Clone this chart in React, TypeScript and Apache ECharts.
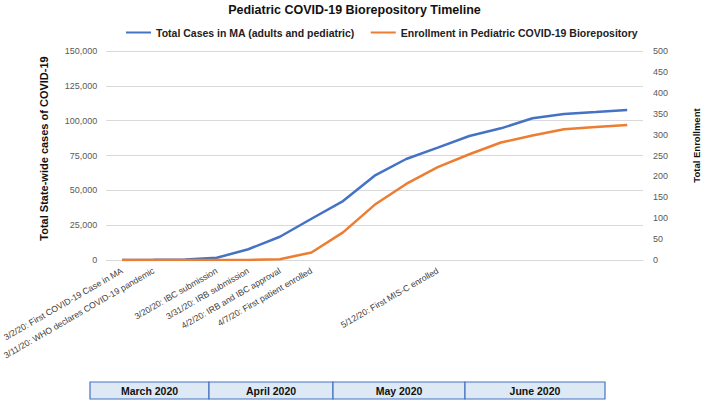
import React, { useEffect, useRef } from "react";
import * as echarts from "echarts";

const eventLabels = [
  "3/2/20: First COVID-19 Case in MA",
  "3/11/20: WHO declares COVID-19 pandemic",
  "",
  "3/20/20: IBC submission",
  "3/31/20: IRB submission",
  "4/2/20: IRB and IBC approval",
  "4/7/20: First patient enrolled",
  "",
  "",
  "",
  "5/12/20: First MIS-C enrolled",
  "",
  "",
  "",
  "",
  "",
  "",
];
const categories = eventLabels.map((l, i) => (l === "" ? "c" + i : l));

const totalCases = [
  1, 100, 300, 1600, 7700, 16700, 29600, 42300, 60500, 72500, 80700, 89000,
  94500, 101700, 104800, 106200, 107700,
];
const enrollment = [
  0, 0, 0, 0, 0, 2, 18, 66, 132, 182, 222, 253, 281, 298, 313, 318, 323,
];

const months = ["March 2020", "April 2020", "May 2020", "June 2020"];

const FONT = "'Liberation Sans', Arial, sans-serif";

export default function App() {
  const ref = useRef<HTMLDivElement>(null);
  useEffect(() => {
    document.body.style.margin = "0";
    const chart = echarts.init(ref.current!, null, { renderer: "svg" });
    const edges = [90, 209, 333, 465, 605];
    const table: any[] = [];
    months.forEach((m, i) => {
      table.push({
        type: "rect",
        shape: { x: edges[i], y: 382, width: edges[i + 1] - edges[i], height: 17 },
        style: { fill: "#dde9f5", stroke: "#4472c4", lineWidth: 1.2 },
      });
      table.push({
        type: "text",
        x: (edges[i] + edges[i + 1]) / 2,
        y: 390.5,
        style: {
          text: m,
          fill: "#111",
          font: "bold 10.5px " + FONT,
          align: "center",
          verticalAlign: "middle",
        },
      });
    });
    chart.setOption({
      animation: false,
      textStyle: { fontFamily: FONT },
      title: {
        text: "Pediatric COVID-19 Biorepository Timeline",
        left: "center",
        top: 3,
        padding: 0,
        textStyle: { fontSize: 12.5, fontWeight: "bold", color: "#111", fontFamily: FONT },
      },
      legend: {
        top: 22,
        left: 121,
        icon: "rect",
        itemWidth: 25,
        itemHeight: 2,
        itemGap: 16,
        textStyle: { fontSize: 10.5, fontWeight: "bold", color: "#222", fontFamily: FONT },
        data: [
          "Total Cases in MA (adults and pediatric)",
          "Enrollment in Pediatric COVID-19 Biorepository",
        ],
      },
      grid: { left: 102, right: 59, top: 51, bottom: 141, containLabel: false },
      xAxis: {
        type: "category",
        data: categories,
        boundaryGap: true,
        axisLine: { show: true, lineStyle: { color: "#d9d9d9" } },
        axisTick: { show: false },
        axisLabel: {
          interval: 0,
          rotate: 30,
          fontSize: 8.7,
          color: "#404040",
          margin: 10,
          formatter: (_v: string, i: number) => eventLabels[i],
        },
      },
      yAxis: [
        {
          type: "value",
          min: 0,
          max: 150000,
          interval: 25000,
          name: "Total State-wide cases of COVID-19",
          nameLocation: "middle",
          nameRotate: 90,
          nameGap: 57,
          nameTextStyle: { fontSize: 11, fontWeight: "bold", color: "#111", padding: [0, 0, 0, 14] },
          axisLine: { show: false },
          axisTick: { show: false },
          axisLabel: {
            fontSize: 9,
            color: "#595959",
            margin: 9,
            formatter: (v: number) => v.toLocaleString("en-US"),
          },
          splitLine: { lineStyle: { color: "#d9d9d9" } },
        },
        {
          type: "value",
          min: 0,
          max: 500,
          interval: 50,
          name: "Total Enrollment",
          nameLocation: "middle",
          nameRotate: 90,
          nameGap: 48,
          nameTextStyle: { fontSize: 9.5, fontWeight: "bold", color: "#111", padding: [0, 0, 0, 20] },
          axisLine: { show: false },
          axisTick: { show: false },
          axisLabel: { fontSize: 9, color: "#595959", margin: 10 },
          splitLine: { show: false },
        },
      ],
      series: [
        {
          name: "Total Cases in MA (adults and pediatric)",
          type: "line",
          data: totalCases,
          yAxisIndex: 0,
          symbol: "none",
          lineStyle: { width: 2.5, color: "#4472c4" },
          itemStyle: { color: "#4472c4" },
        },
        {
          name: "Enrollment in Pediatric COVID-19 Biorepository",
          type: "line",
          data: enrollment,
          yAxisIndex: 1,
          symbol: "none",
          lineStyle: { width: 2.5, color: "#ed7d31" },
          itemStyle: { color: "#ed7d31" },
        },
      ],
      graphic: table,
    });
    return () => chart.dispose();
  }, []);
  return <div ref={ref} style={{ width: 709, height: 401 }} />;
}
